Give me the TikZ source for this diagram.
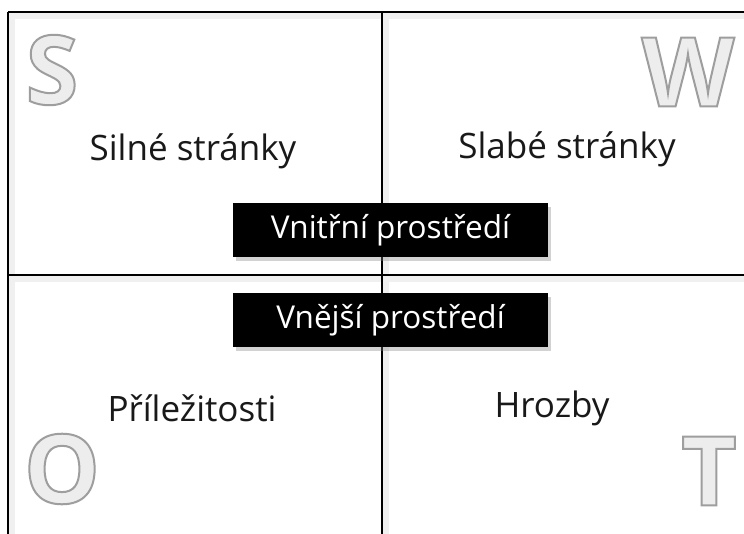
\documentclass[tikz,border=0pt]{standalone}
\usepackage{fontspec}
\setmainfont{Open Sans}
\usetikzlibrary{shadows}
\newcommand\outlined[1]{\special{pdf:literal direct 2 Tr 2 w 0.62 G}#1\special{pdf:literal direct 0 Tr 0 G}}
\begin{document}
\begin{tikzpicture}[x=1pt,y=-1pt,
  gridline/.style={line width=2pt,black},
  glow/.style={line width=6pt,gray!12},
  quad/.style={font=\fontsize{35}{38}\selectfont,text=black!90},
  bigletter/.style={font=\fontsize{96}{100}\selectfont\bfseries,text=gray!14},
  envbox/.style={fill=black,text=white,minimum width=315pt,minimum height=54pt,
    inner sep=0pt,font=\fontsize{31.5}{35}\selectfont,
    drop shadow={shadow xshift=3pt,shadow yshift=-4pt,opacity=0.35,fill=gray}}
]
\useasboundingbox (0,0) rectangle (744,534);
\fill[white] (0,0) rectangle (744,534);
% corners of the grid
\coordinate (tl) at (8,12);
\coordinate (tr) at (744,12);
\coordinate (bl) at (8,534);
\coordinate (tm) at (382,12);
\coordinate (bm) at (382,534);
\coordinate (ml) at (8,275);
\coordinate (mr) at (744,275);
% soft glow along lines
\draw[glow] ([xshift=4pt]tl) -- ([xshift=4pt]bl);
\draw[glow] ([yshift=-4pt]tl) -- ([yshift=-4pt]tr);
\draw[glow] ([xshift=4pt]tm) -- ([xshift=4pt]bm);
\draw[glow] ([yshift=-4pt]ml) -- ([yshift=-4pt]mr);
% big letters
\node[bigletter] (S) at (52,70) {\outlined{S}};
\node[bigletter] (W) at (688,72) {\outlined{W}};
\node[bigletter] (O) at (62,469) {\outlined{O}};
\node[bigletter] (T) at (709,471) {\outlined{T}};
% grid lines
\draw[gridline] (tl) -- (bl);
\draw[gridline] (tl) -- (tr);
\draw[gridline] (tm) -- (bm);
\draw[gridline] (ml) -- (mr);
% quadrant labels
\node[quad] (s1) at (193,151) {Silné stránky};
\node[quad] (w1) at (567,149) {Slabé stránky};
\node[quad] (o1) at (192,408) {Příležitosti};
\node[quad] (t1) at (552,408) {Hrozby};
% environment boxes
\node[envbox] (vn) at (390.5,230) {Vnitřní prostředí};
\node[envbox] (ve) at (390.5,320) {Vnější prostředí};
\end{tikzpicture}
\end{document}
